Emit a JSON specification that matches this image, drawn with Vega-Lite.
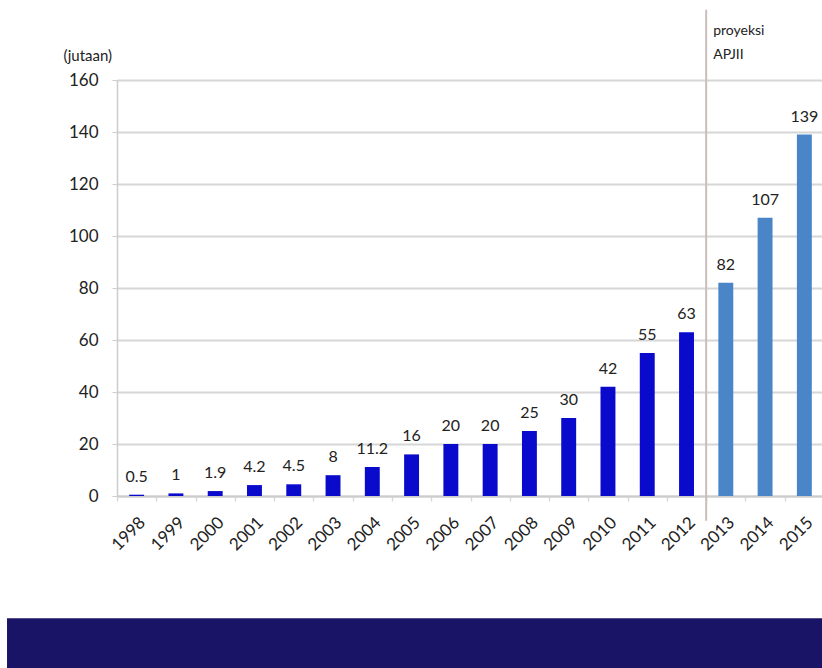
{
  "$schema": "https://vega.github.io/schema/vega-lite/v6.json",
  "autosize": "none",
  "width": 707,
  "height": 416,
  "padding": {"left": 117, "top": 80, "right": 0, "bottom": 172},
  "background": "white",
  "config": {
    "font": "Lato",
    "view": {"stroke": null},
    "axis": {"labelFont": "Lato", "titleFont": "Lato", "labelColor": "#222222", "titleColor": "#222222"}
  },
  "layer": [
    {
      "data": {
        "values": [
          {"tahun": "1998", "pengguna": 0.5, "jenis": "aktual"},
          {"tahun": "1999", "pengguna": 1, "jenis": "aktual"},
          {"tahun": "2000", "pengguna": 1.9, "jenis": "aktual"},
          {"tahun": "2001", "pengguna": 4.2, "jenis": "aktual"},
          {"tahun": "2002", "pengguna": 4.5, "jenis": "aktual"},
          {"tahun": "2003", "pengguna": 8, "jenis": "aktual"},
          {"tahun": "2004", "pengguna": 11.2, "jenis": "aktual"},
          {"tahun": "2005", "pengguna": 16, "jenis": "aktual"},
          {"tahun": "2006", "pengguna": 20, "jenis": "aktual"},
          {"tahun": "2007", "pengguna": 20, "jenis": "aktual"},
          {"tahun": "2008", "pengguna": 25, "jenis": "aktual"},
          {"tahun": "2009", "pengguna": 30, "jenis": "aktual"},
          {"tahun": "2010", "pengguna": 42, "jenis": "aktual"},
          {"tahun": "2011", "pengguna": 55, "jenis": "aktual"},
          {"tahun": "2012", "pengguna": 63, "jenis": "aktual"},
          {"tahun": "2013", "pengguna": 82, "jenis": "proyeksi"},
          {"tahun": "2014", "pengguna": 107, "jenis": "proyeksi"},
          {"tahun": "2015", "pengguna": 139, "jenis": "proyeksi"}
        ]
      },
      "layer": [
        {
          "mark": {"type": "bar", "width": {"band": 0.38}},
          "encoding": {
            "x": {
              "field": "tahun", "type": "nominal", "sort": null,
              "scale": {"paddingInner": 0, "paddingOuter": 0},
              "axis": {
                "title": null, "labelAngle": -45, "labelFontSize": 17, "labelPadding": 13,
                "tickBand": "extent", "tickSize": 5, "tickColor": "#d8d8d8", "tickWidth": 1.5,
                "domainColor": "#cccccc", "domainWidth": 2
              }
            },
            "y": {
              "field": "pengguna", "type": "quantitative",
              "scale": {"domain": [0, 160], "nice": false},
              "axis": {
                "values": [0, 20, 40, 60, 80, 100, 120, 140, 160],
                "title": "(jutaan)", "titleAngle": 0, "titleAlign": "left", "titleBaseline": "middle",
                "titleX": -54, "titleY": -25, "titleFontSize": 15, "titleFontWeight": "normal",
                "labelFontSize": 17, "labelPadding": 14, "tickSize": 5, "tickColor": "#cccccc",
                "gridColor": "#d6d6d6", "gridWidth": 2, "domainColor": "#cccccc", "domainWidth": 1.5
              }
            },
            "color": {
              "field": "jenis", "type": "nominal",
              "scale": {"domain": ["aktual", "proyeksi"], "range": ["#0a0acc", "#4a85c8"]},
              "legend": null
            }
          }
        },
        {
          "mark": {"type": "text", "baseline": "bottom", "dy": -10, "fontSize": 16, "color": "#222222"},
          "encoding": {
            "x": {"field": "tahun", "type": "nominal", "sort": null},
            "y": {"field": "pengguna", "type": "quantitative"},
            "text": {"field": "pengguna", "type": "quantitative", "format": "~g"}
          }
        },
        {
          "data": {"values": [{"tahun": "2013"}]},
          "mark": {"type": "rule", "color": "#cbbcbc", "strokeWidth": 2},
          "encoding": {
            "x": {"field": "tahun", "type": "nominal", "bandPosition": 0},
            "y": {"datum": 187, "type": "quantitative"},
            "y2": {"datum": -9.5}
          }
        },
        {
          "data": {"values": [{"tahun": "2013", "label": ["proyeksi", "APJII"]}]},
          "mark": {"type": "text", "align": "left", "baseline": "middle", "dx": 7, "fontSize": 14, "lineHeight": 24, "color": "#222222"},
          "encoding": {
            "x": {"field": "tahun", "type": "nominal", "bandPosition": 0},
            "y": {"datum": 179, "type": "quantitative"},
            "text": {"field": "label"}
          }
        }
      ]
    },
    {
      "data": {"values": [{"band": "latar"}]},
      "mark": {"type": "rect", "color": "#1a1466"},
      "encoding": {
        "x": {"datum": 1994.7, "type": "quantitative", "scale": {"domain": [1997.5, 2015.5], "nice": false, "zero": false}, "axis": null},
        "x2": {"datum": 2016},
        "y": {"datum": -47, "type": "quantitative"},
        "y2": {"datum": -70}
      }
    }
  ],
  "resolve": {"scale": {"x": "independent"}}
}
